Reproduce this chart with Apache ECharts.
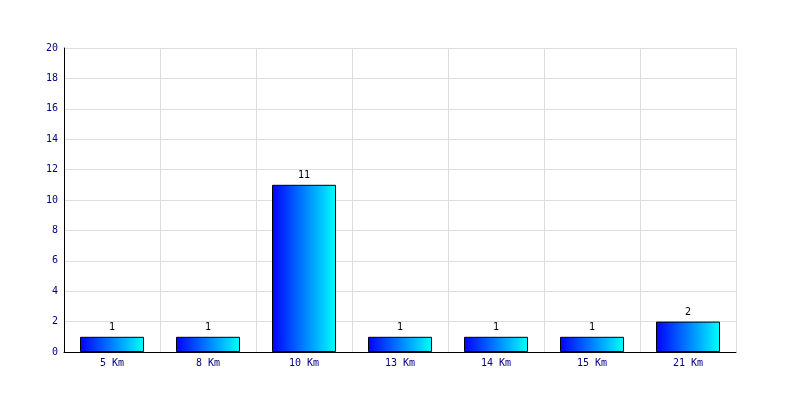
<!DOCTYPE html>
<html>
<head>
<meta charset="utf-8">
<script src="https://cdn.jsdelivr.net/npm/echarts@6/dist/echarts.min.js"></script>
<style>html,body{margin:0;padding:0;background:#fff}#c{width:800px;height:400px}</style>
</head>
<body>
<div id="c"></div>
<script>
var categories = ['5 Km', '8 Km', '10 Km', '13 Km', '14 Km', '15 Km', '21 Km'];
var values = [1, 1, 11, 1, 1, 1, 2];
var yMin = 0, yMax = 20, yInterval = 2;

var chart = echarts.init(document.getElementById('c'), null, {renderer: 'canvas'});
var font = 'DejaVu Sans Mono';
chart.setOption({
  animation: false,
  backgroundColor: '#ffffff',
  grid: {left: 64, right: 64, top: 48, bottom: 48, containLabel: false},
  xAxis: {
    type: 'category',
    data: categories,
    boundaryGap: true,
    axisLine: {show: true, lineStyle: {color: '#000', width: 1}},
    axisTick: {show: false},
    axisLabel: {color: '#000080', fontFamily: font, fontSize: 10, margin: 6, interval: 0},
    splitLine: {show: true, interval: 0, lineStyle: {color: '#dddddd', width: 1}}
  },
  yAxis: {
    type: 'value',
    min: yMin, max: yMax, interval: yInterval,
    axisLine: {show: true, lineStyle: {color: '#000', width: 1}},
    axisTick: {show: false},
    axisLabel: {color: '#000080', fontFamily: font, fontSize: 10, margin: 6},
    splitLine: {show: true, lineStyle: {color: '#dddddd', width: 1}}
  },
  series: [{
    type: 'bar',
    data: values,
    barWidth: 64,
    itemStyle: {
      borderColor: '#000',
      borderWidth: 1,
      color: new echarts.graphic.LinearGradient(0, 0, 1, 0, [
        {offset: 0, color: '#0000ff'},
        {offset: 1, color: '#00ffff'}
      ])
    },
    label: {show: true, position: 'top', color: '#000', fontFamily: font, fontSize: 10, distance: 4}
  }]
});
</script>
</body>
</html>
